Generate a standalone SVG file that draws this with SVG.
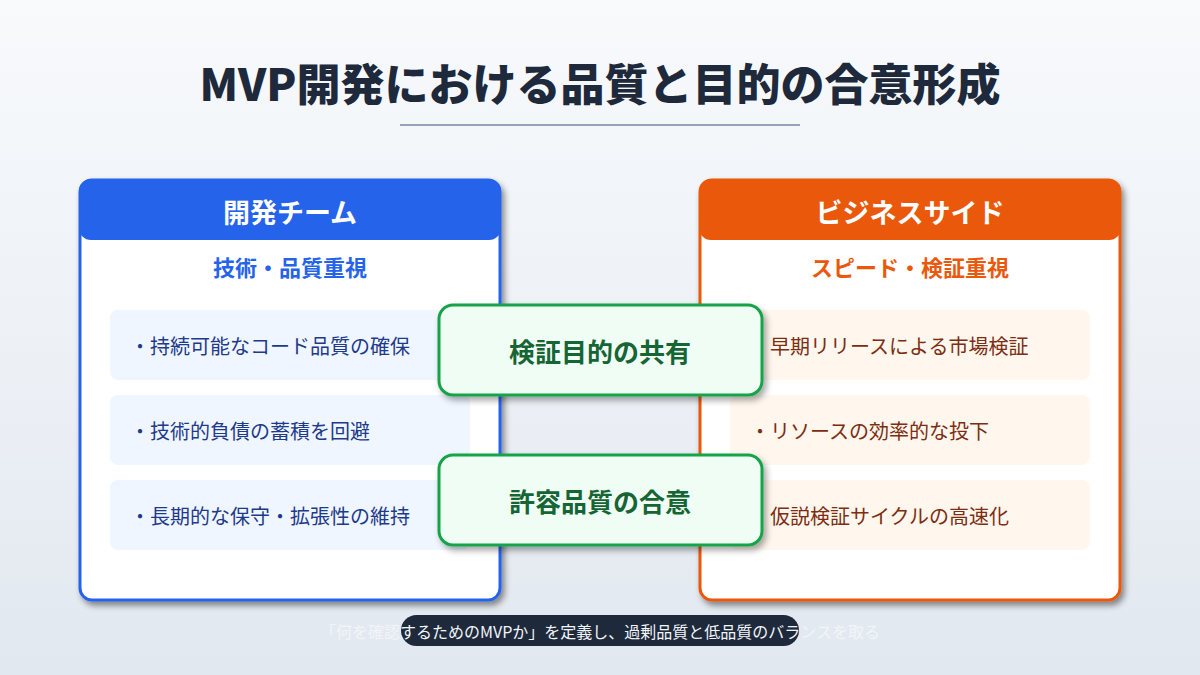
<svg xmlns="http://www.w3.org/2000/svg" width="1200" height="675" viewBox="0 0 1200 675">
<defs>
<linearGradient id="bg" x1="0" y1="0" x2="0" y2="1">
<stop offset="0" stop-color="#f8fafc"/>
<stop offset="1" stop-color="#e2e8f0"/>
</linearGradient>
<filter id="sh" x="-10%" y="-10%" width="125%" height="125%">
<feDropShadow dx="3" dy="4" stdDeviation="3" flood-color="#000" flood-opacity="0.45"/>
</filter>
<filter id="sh2" x="-10%" y="-20%" width="125%" height="150%">
<feDropShadow dx="3" dy="4" stdDeviation="3" flood-color="#000" flood-opacity="0.35"/>
</filter>
</defs>
<style>
text{font-family:"Noto Sans CJK JP","Noto Sans",sans-serif;}
.title{font-size:44px;font-weight:900;fill:#1e293b;}
.hdr{font-size:27px;font-weight:700;fill:#ffffff;}
.sub{font-size:22px;font-weight:700;}
.item{font-size:20px;}
.lt{fill:#1e3a8a;}
.rt{fill:#7c2d12;}
.litem{fill:#eff6ff;}
.ritem{fill:#fff7ed;}
.gbox{fill:#f0fdf4;stroke:#16a34a;stroke-width:3;}
.gtxt{font-size:26px;font-weight:700;fill:#166534;}
.foot{font-size:16px;fill:#f1f5f9;}
</style>
<rect x="0" y="0" width="1200" height="675" fill="url(#bg)"/>
<g id="title">
<text class="title" x="600" y="82" text-anchor="middle" dominant-baseline="central">MVP開発における品質と目的の合意形成</text>
<line x1="400" y1="125" x2="800" y2="125" stroke="#94a3b8" stroke-width="2"/>
</g>
<g id="dev-team">
<rect x="80" y="180" width="420" height="420" rx="12" fill="#ffffff" stroke="#2563eb" stroke-width="3" filter="url(#sh)"/>
<rect x="79" y="179" width="422" height="61" rx="12" fill="#2563eb"/>
<text class="hdr" x="290" y="211" text-anchor="middle" dominant-baseline="central">開発チーム</text>
<text class="sub" x="290" y="266" text-anchor="middle" dominant-baseline="central" fill="#2563eb">技術・品質重視</text>
<rect class="litem" x="110" y="310" width="360" height="70" rx="8"/>
<text class="item lt" x="130" y="345" dominant-baseline="central">・持続可能なコード品質の確保</text>
<rect class="litem" x="110" y="395" width="360" height="70" rx="8"/>
<text class="item lt" x="130" y="430" dominant-baseline="central">・技術的負債の蓄積を回避</text>
<rect class="litem" x="110" y="480" width="360" height="70" rx="8"/>
<text class="item lt" x="130" y="515" dominant-baseline="central">・長期的な保守・拡張性の維持</text>
</g>
<g id="business-side">
<rect x="700" y="180" width="420" height="420" rx="12" fill="#ffffff" stroke="#ea580c" stroke-width="3" filter="url(#sh)"/>
<rect x="699" y="179" width="422" height="61" rx="12" fill="#ea580c"/>
<text class="hdr" x="910" y="211" text-anchor="middle" dominant-baseline="central">ビジネスサイド</text>
<text class="sub" x="910" y="266" text-anchor="middle" dominant-baseline="central" fill="#ea580c">スピード・検証重視</text>
<rect class="ritem" x="730" y="310" width="360" height="70" rx="8"/>
<text class="item rt" x="750" y="345" dominant-baseline="central">・早期リリースによる市場検証</text>
<rect class="ritem" x="730" y="395" width="360" height="70" rx="8"/>
<text class="item rt" x="750" y="430" dominant-baseline="central">・リソースの効率的な投下</text>
<rect class="ritem" x="730" y="480" width="360" height="70" rx="8"/>
<text class="item rt" x="750" y="515" dominant-baseline="central">・仮説検証サイクルの高速化</text>
</g>
<g id="shared-purpose">
<rect class="gbox" x="439" y="305" width="323" height="90" rx="14" filter="url(#sh2)"/>
<text class="gtxt" x="600" y="350" text-anchor="middle" dominant-baseline="central">検証目的の共有</text>
</g>
<g id="quality-agreement">
<rect class="gbox" x="439" y="455" width="323" height="90" rx="14" filter="url(#sh2)"/>
<text class="gtxt" x="600" y="500" text-anchor="middle" dominant-baseline="central">許容品質の合意</text>
</g>
<g id="connectors"></g>
<g id="footer">
<rect x="401" y="615" width="398" height="31" rx="15.5" fill="#1e293b"/>
<text class="foot" x="600" y="631" text-anchor="middle" dominant-baseline="central">「何を確認するためのMVPか」を定義し、過剰品質と低品質のバランスを取る</text>
</g>
</svg>
